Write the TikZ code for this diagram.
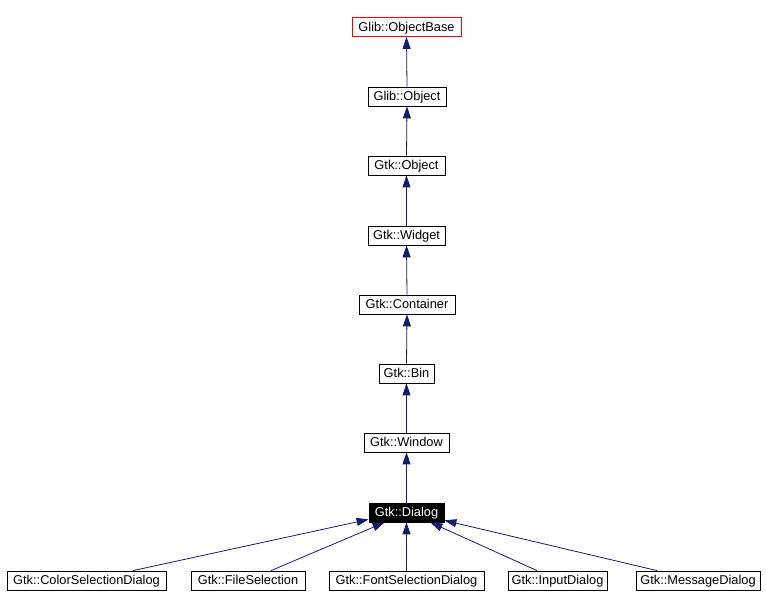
\documentclass[tikz,border=0pt]{standalone}
\usepackage{fontspec}
\setmainfont{Liberation Sans}
\usetikzlibrary{arrows.meta}
\definecolor{edgeblue}{HTML}{191970}
\begin{document}
\begin{tikzpicture}[x=1pt,y=1pt,
  cls/.style={draw=black,fill=white,line width=0.8pt,inner sep=0pt,minimum height=19pt,text height=9pt,text depth=0pt,font=\fontsize{12.8}{15}\selectfont},
  rootcls/.style={cls,draw=red},
  curcls/.style={cls,fill=black,text=white},
  inh/.style={draw=edgeblue,line width=0.8pt,-{Triangle[length=12pt,width=8pt]}}]
\useasboundingbox (0,0) rectangle (766,609);
\node[rootcls,minimum width=109pt] (ob) at (406.5,{609-27}) {Glib::ObjectBase};
\node[cls,minimum width=78pt] (go) at (407,{609-96.5}) {Glib::Object};
\node[cls,minimum width=77pt] (to) at (406.5,{609-165.5}) {Gtk::Object};
\node[cls,minimum width=77pt] (wi) at (406.5,{609-235.5}) {Gtk::Widget};
\node[cls,minimum width=96pt] (co) at (407,{609-304.5}) {Gtk::Container};
\node[cls,minimum width=55pt] (bi) at (406.5,{609-373.5}) {Gtk::Bin};
\node[cls,minimum width=85pt] (wn) at (406.5,{609-442.5}) {Gtk::Window};
\node[curcls,minimum width=75pt] (di) at (406.5,{609-512.5}) {Gtk::Dialog};
\node[cls,minimum width=159pt] (cs) at (86.5,{609-580.5}) {Gtk::ColorSelectionDialog};
\node[cls,minimum width=114pt] (fs) at (248,{609-580.5}) {Gtk::FileSelection};
\node[cls,minimum width=155pt] (fn) at (406.5,{609-580.5}) {Gtk::FontSelectionDialog};
\node[cls,minimum width=99pt] (id) at (557.5,{609-580.5}) {Gtk::InputDialog};
\node[cls,minimum width=124pt] (md) at (698,{609-580.5}) {Gtk::MessageDialog};
\draw[inh] (go.north) -- (ob.south);
\draw[inh] (to.north) -- (go.south);
\draw[inh] (wi.north) -- (to.south);
\draw[inh] (co.north) -- (wi.south);
\draw[inh] (bi.north) -- (co.south);
\draw[inh] (wn.north) -- (bi.south);
\draw[inh] (di.north) -- (wn.south);
\draw[inh] ([xshift=46.5pt]cs.north) -- ([yshift=3pt]di.south west);
\draw[inh] ([xshift=23pt]fs.north) -- ([xshift=16pt]di.south west);
\draw[inh] (fn.north) -- (di.south);
\draw[inh] ([xshift=-20.5pt]id.north) -- ([xshift=-14pt]di.south east);
\draw[inh] ([xshift=-41pt]md.north) -- ([yshift=2pt]di.south east);
\end{tikzpicture}
\end{document}
